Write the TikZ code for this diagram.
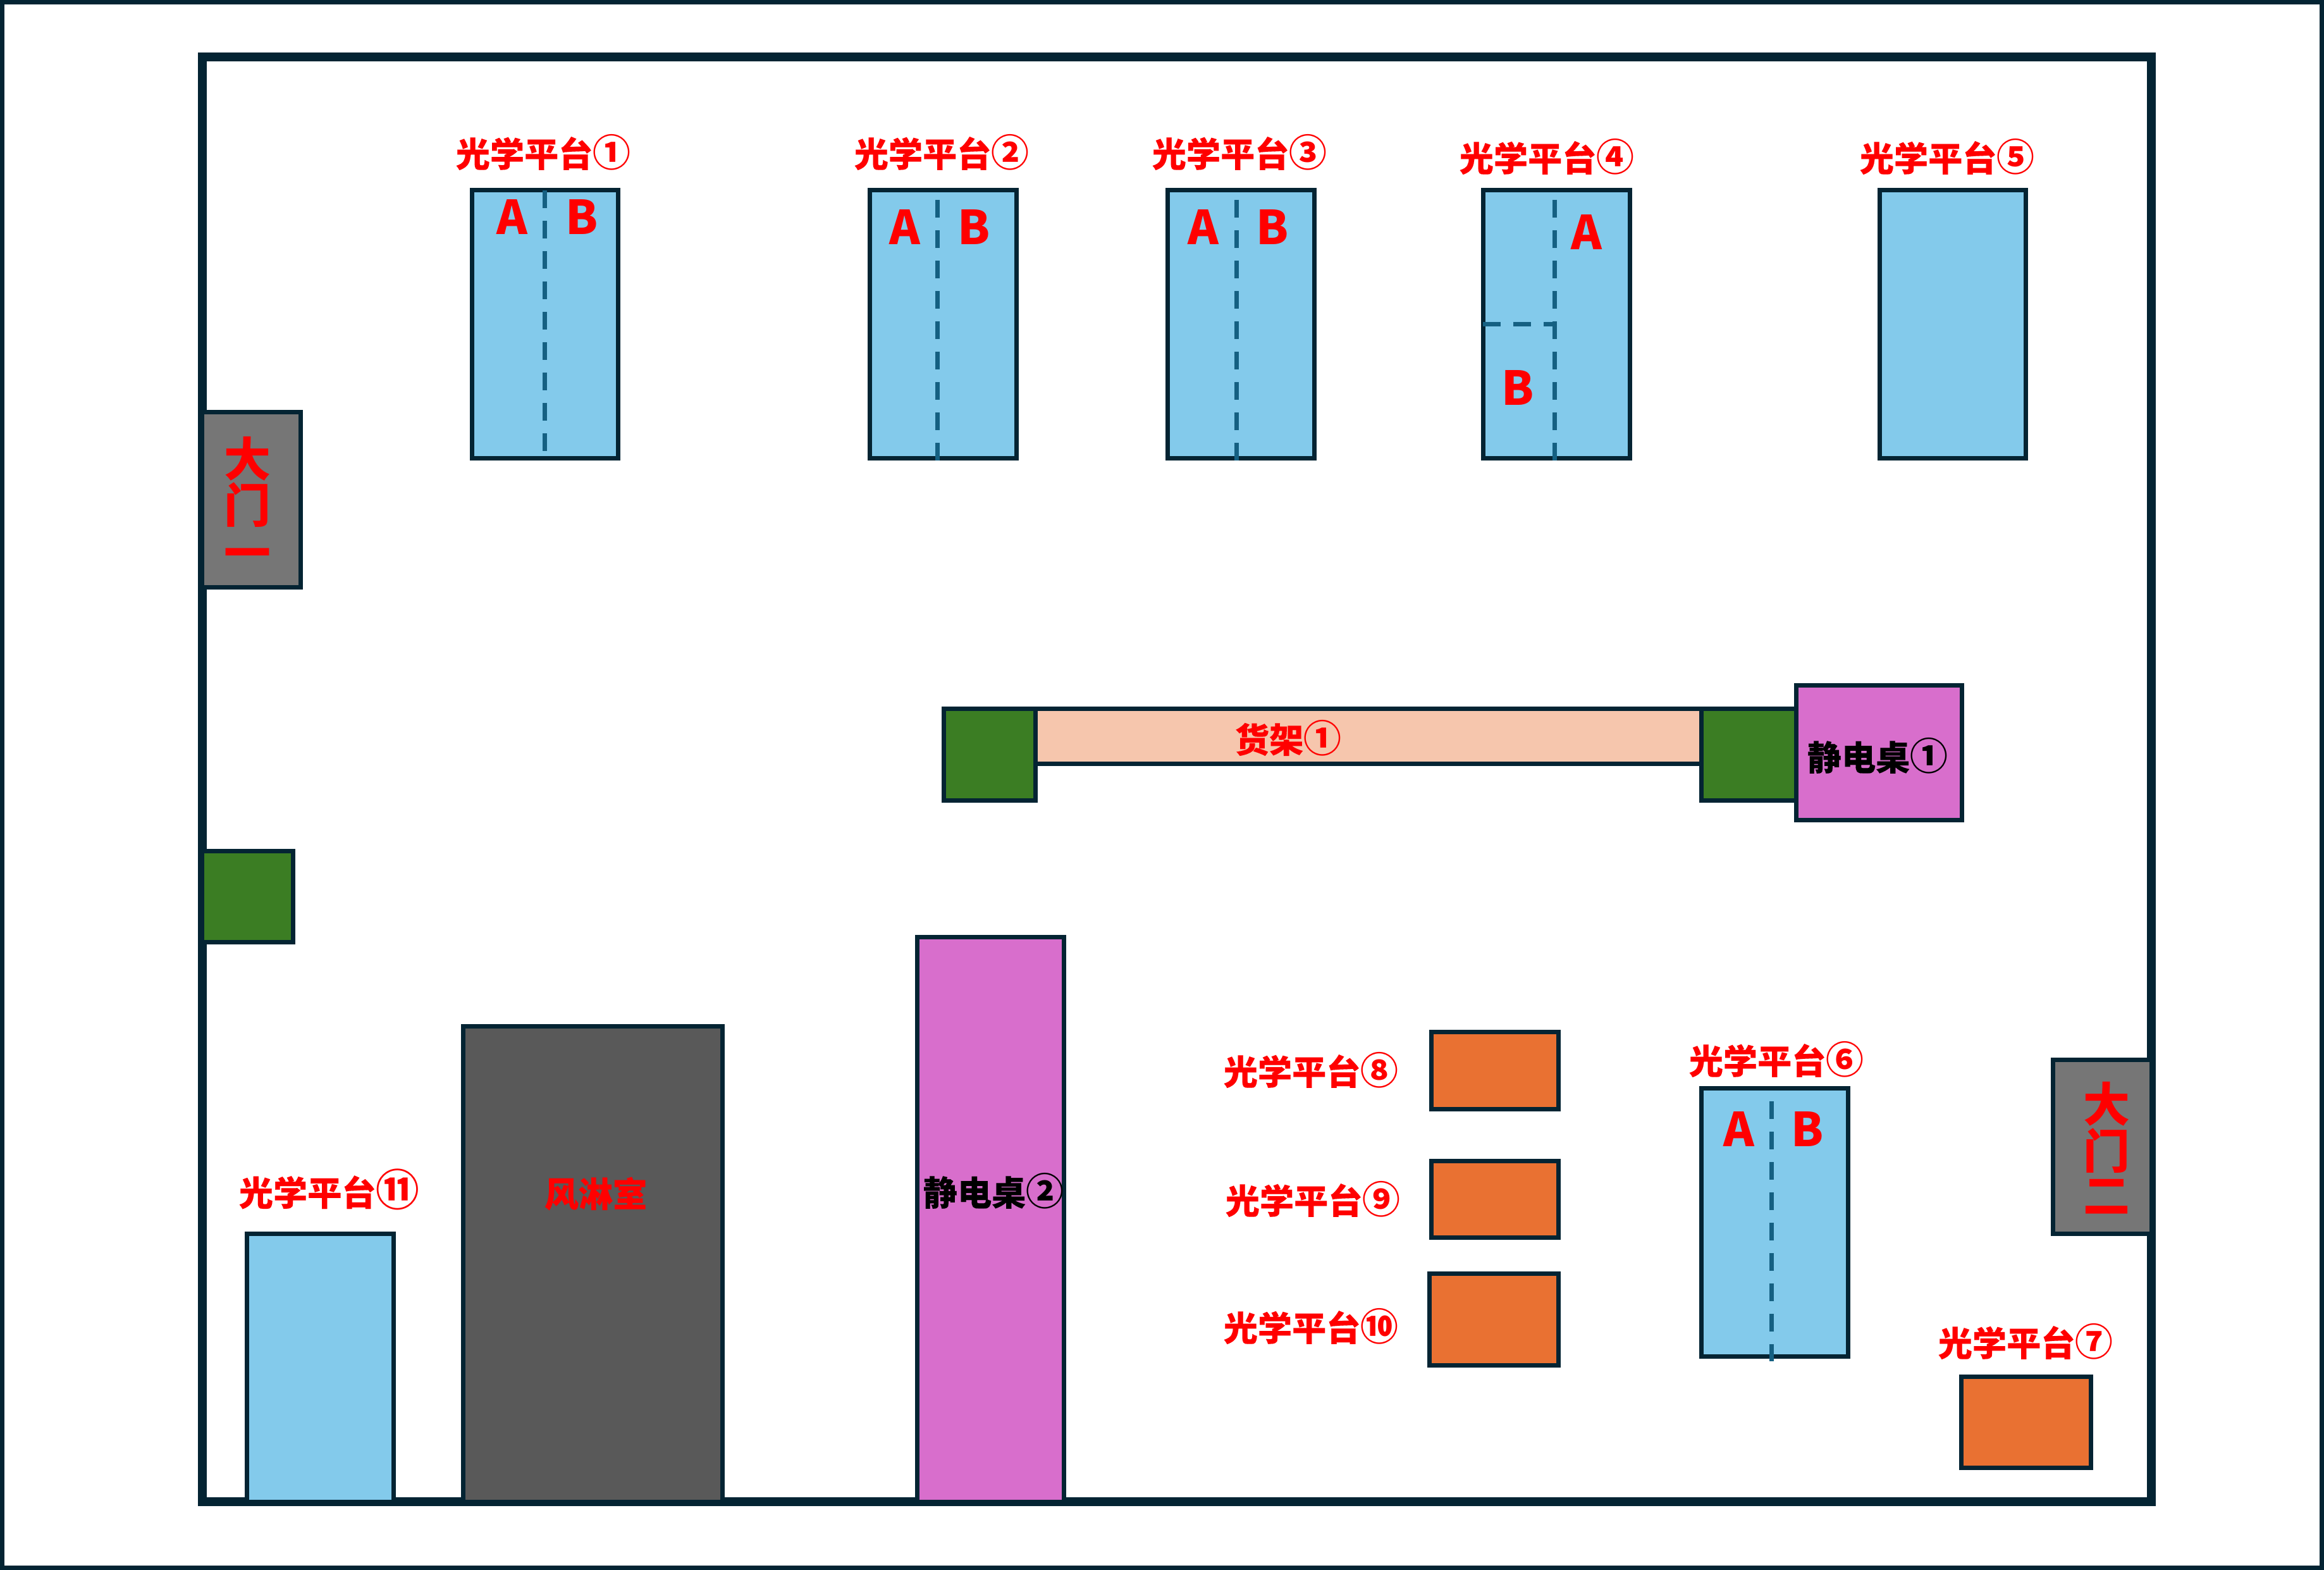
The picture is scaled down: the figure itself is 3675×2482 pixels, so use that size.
\documentclass[tikz,border=0pt]{standalone}
\usepackage{fontspec}
\setmainfont{Noto Sans CJK SC}
\newfontfamily\heavyfont[BoldFeatures={FakeBold=0.25}]{Noto Sans CJK SC}
\newcommand{\circnum}[1]{{\rmfamily\bfseries\fontsize{17pt}{17pt}\selectfont #1}}
\newcommand{\circbig}[1]{{\rmfamily\bfseries\fontsize{19.5pt}{19.5pt}\selectfont #1}}
\definecolor{edge}{HTML}{042433}
\definecolor{dashc}{HTML}{156082}
\definecolor{platform}{HTML}{83CAEB}
\definecolor{orangeb}{HTML}{E97132}
\definecolor{doorg}{HTML}{767676}
\definecolor{roomg}{HTML}{595959}
\definecolor{greenb}{HTML}{3B7D23}
\definecolor{purpleb}{HTML}{D86ECC}
\definecolor{peach}{HTML}{F6C6AD}
\tikzset{
  boxline/.style={draw=edge,line width=7*0.01cm,line join=miter},
  plat/.style={boxline,fill=platform},
  orangebox/.style={boxline,fill=orangeb},
  doorbox/.style={boxline,fill=doorg},
  roombox/.style={boxline,fill=roomg},
  greenbox/.style={boxline,fill=greenb},
  purplebox/.style={boxline,fill=purpleb},
  peachbox/.style={boxline,fill=peach},
  split/.style={draw=dashc,line width=7*0.01cm,dash pattern=on 0.28cm off 0.20cm},
  lab/.style={text=red,font=\fontsize{15.4pt}{15.4pt}\selectfont\heavyfont\bfseries,inner sep=0pt},
  blk/.style={text=black,font=\fontsize{15.4pt}{15.4pt}\selectfont\heavyfont\bfseries,inner sep=0pt},
  letter/.style={text=red,font=\fontsize{21pt}{21pt}\selectfont\bfseries,inner sep=0pt},
  doortext/.style={text=red,font=\fontsize{21pt}{21pt}\selectfont\bfseries,inner sep=0pt}
}
\begin{document}
\begin{tikzpicture}[x=0.01cm,y=-0.01cm]
\useasboundingbox (0,0) rectangle (3675,2482);
\fill[white] (0,0) rectangle (3675,2482);
\draw[edge,line width=7*0.01cm] (3.5,3.5) rectangle (3671.5,2478.5);
\draw[edge,line width=14*0.01cm,line join=miter] (319.5,90) rectangle (3402,2374);
% platforms
\draw[plat] (746,300.5) rectangle (977,724.5);
\draw[plat] (1375.5,300.5) rectangle (1607.5,724.5);
\draw[plat] (1846,300.5) rectangle (2078,724.5);
\draw[plat] (2345,300.5) rectangle (2577,724.5);
\draw[plat] (2972,300.5) rectangle (3203,724.5);
\draw[plat] (2690,1720) rectangle (2922,2144);
\draw[plat] (390.5,1950) rectangle (622.5,2374);
% splits
\draw[split] (861,301) -- (861,724);
\draw[split] (1482,316) -- (1482,728);
\draw[split] (1955,316) -- (1955,728);
\draw[split] (2458,316) -- (2458,728);
\draw[split] (2345,513) -- (2458,513);
\draw[split] (2801.5,1741) -- (2801.5,2152);
% doors, store units
\draw[doorbox] (319.5,651.5) rectangle (475,928);
\draw[doorbox] (3246,1675) rectangle (3402,1950);
\draw[greenbox] (319.5,1345) rectangle (463,1489);
\draw[peachbox] (1637,1120.5) rectangle (2690.5,1207);
\draw[greenbox] (1492,1120.5) rectangle (1637,1265);
\draw[greenbox] (2690.5,1120.5) rectangle (2840,1265);
\draw[purplebox] (2840,1083) rectangle (3102,1296);
\draw[purplebox] (1450,1481) rectangle (1682,2374);
\draw[roombox] (732,1622) rectangle (1142,2374);
\draw[orangebox] (2263,1631) rectangle (2464,1753);
\draw[orangebox] (2263,1835) rectangle (2464,1956);
\draw[orangebox] (2260,2013) rectangle (2464,2158);
\draw[orangebox] (3101,2176.5) rectangle (3306,2320);
% labels
\node[lab] (p1) at (859,241) {光学平台\circnum{①}};
\node[lab] (p2) at (1489,241) {光学平台\circnum{②}};
\node[lab] (p3) at (1960,241) {光学平台\circnum{③}};
\node[lab] (p4) at (2446,248) {光学平台\circnum{④}};
\node[lab] (p5) at (3079,248) {光学平台\circnum{⑤}};
\node[lab] (p6) at (2809,1675) {光学平台\circnum{⑥}};
\node[lab] (p7) at (3203,2121) {光学平台\circnum{⑦}};
\node[lab] (p8) at (2073,1692) {光学平台\circnum{⑧}};
\node[lab] (p9) at (2076,1896) {光学平台\circnum{⑨}};
\node[lab] (p10) at (2073,2097) {光学平台\circnum{⑩}};
\node[lab] (p11) at (520.5,1880) {光学平台\circbig{⑪}};
\node[lab] (shelf) at (2037,1167) {货架\circnum{①}};
\node[blk] (d1) at (2969,1195) {静电桌\circnum{①}};
\node[blk] (d2) at (1571,1883) {静电桌\circnum{②}};
\node[lab] (room) at (942,1887) {风淋室};
% letters
\node[letter] (a1) at (810,343) {A};
\node[letter] (b1) at (920,343) {B};
\node[letter] (a2) at (1431,359) {A};
\node[letter] (b2) at (1540,359) {B};
\node[letter] (a3) at (1903,359) {A};
\node[letter] (b3) at (2012,359) {B};
\node[letter] (a4) at (2509,367) {A};
\node[letter] (b4) at (2400,613) {B};
\node[letter] (a6) at (2750,1785) {A};
\node[letter] (b6) at (2858,1785) {B};
% door text
\node[doortext] (d1a) at (391.5,725) {大};
\node[doortext] (d1b) at (391.5,798) {门};
\node[doortext] (d1c) at (391.5,884) {一};
\node[doortext] (d2a) at (3331,1745) {大};
\node[doortext] (d2b) at (3331,1819) {门};
\node[doortext] (d2c) at (3331,1892) {二};
\end{tikzpicture}
\end{document}
